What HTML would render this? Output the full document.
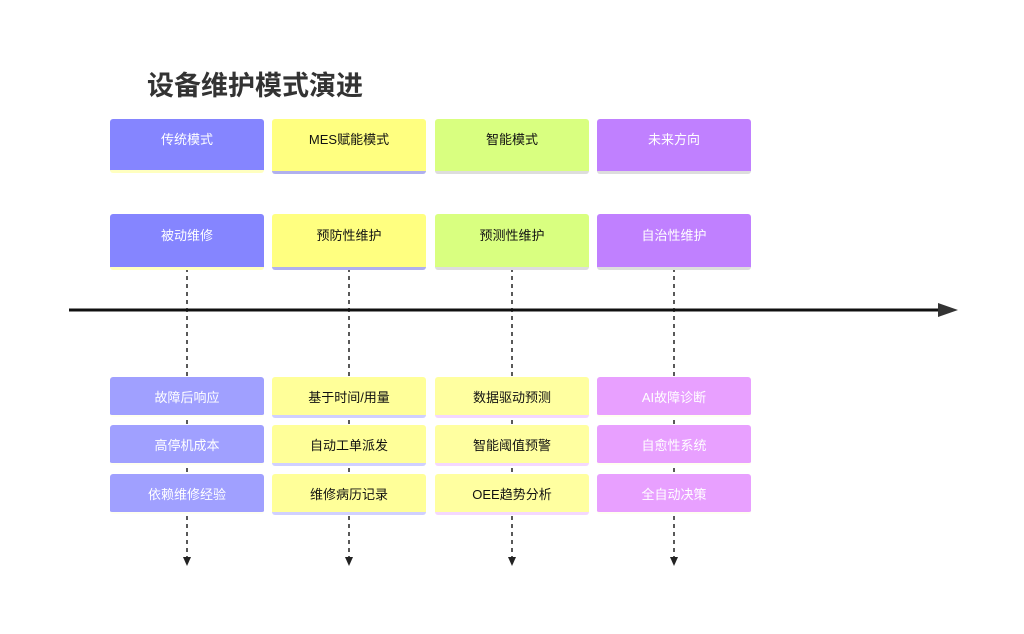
<!DOCTYPE html>
<html><head><meta charset="utf-8"><style>
body{margin:0;width:1024px;height:634px;background:#fff;position:relative;overflow:hidden;font-family:"Liberation Sans","Noto Sans CJK SC",sans-serif}
.b{position:absolute;width:154px;border-radius:3px;display:flex;align-items:center;justify-content:center;font-size:13px;box-sizing:border-box}
.t{position:absolute;left:147px;top:68px;font-size:27px;font-weight:bold;color:#333;line-height:36px}
svg{position:absolute;left:0;top:0}
</style></head><body>
<svg width="1024" height="634">
<g stroke="#222" stroke-width="1.5" stroke-dasharray="4,4">
<line x1="187" y1="268" x2="187" y2="558"/><line x1="349" y1="268" x2="349" y2="558"/>
<line x1="512" y1="268" x2="512" y2="558"/><line x1="674" y1="268" x2="674" y2="558"/>
</g>
<g fill="#222">
<polygon points="183,557 191,557 187,566"/><polygon points="345,557 353,557 349,566"/>
<polygon points="508,557 516,557 512,566"/><polygon points="670,557 678,557 674,566"/>
</g>
<line x1="69" y1="310" x2="940" y2="310" stroke="#111" stroke-width="3"/>
<polygon points="938,303 958,310 938,317" fill="#333"/>
</svg>
<div class="t">设备维护模式演进</div>

<div class="b" style="left:110px;top:119px;height:54px;background:#8585ff;color:#fff;border-bottom:3px solid #ffffc0;align-items:flex-start;padding-top:10px">传统模式</div>
<div class="b" style="left:272px;top:119px;height:55px;background:#ffff80;color:#111;border-bottom:3px solid #b0b0ee;align-items:flex-start;padding-top:10px">MES赋能模式</div>
<div class="b" style="left:435px;top:119px;height:55px;background:#d9ff80;color:#111;border-bottom:3px solid #dddddd;align-items:flex-start;padding-top:10px">智能模式</div>
<div class="b" style="left:597px;top:119px;height:55px;background:#c080ff;color:#fff;border-bottom:3px solid #dddddd;align-items:flex-start;padding-top:10px">未来方向</div>

<div class="b" style="left:110px;top:214px;height:56px;background:#8585ff;color:#fff;border-bottom:3px solid #ffffc0;align-items:flex-start;padding-top:11px">被动维修</div>
<div class="b" style="left:272px;top:214px;height:56px;background:#ffff80;color:#111;border-bottom:3px solid #b0b0ee;align-items:flex-start;padding-top:11px">预防性维护</div>
<div class="b" style="left:435px;top:214px;height:56px;background:#d9ff80;color:#111;border-bottom:3px solid #dddddd;align-items:flex-start;padding-top:11px">预测性维护</div>
<div class="b" style="left:597px;top:214px;height:56px;background:#c080ff;color:#fff;border-bottom:3px solid #dddddd;align-items:flex-start;padding-top:11px">自治性维护</div>

<div class="b" style="left:110px;top:377px;height:40px;background:#a0a0ff;color:#fff;border-bottom:2px solid #fffff0">故障后响应</div>
<div class="b" style="left:110px;top:425px;height:40px;background:#a0a0ff;color:#fff;border-bottom:2px solid #fffff0">高停机成本</div>
<div class="b" style="left:110px;top:474px;height:40px;background:#a0a0ff;color:#fff;border-bottom:2px solid #fffff0">依赖维修经验</div>

<div class="b" style="left:272px;top:377px;height:41px;background:#ffff99;color:#111;border-bottom:3px solid #d0d0ff">基于时间/用量</div>
<div class="b" style="left:272px;top:425px;height:41px;background:#ffff99;color:#111;border-bottom:3px solid #d0d0ff">自动工单派发</div>
<div class="b" style="left:272px;top:474px;height:41px;background:#ffff99;color:#111;border-bottom:3px solid #d0d0ff">维修病历记录</div>

<div class="b" style="left:435px;top:377px;height:41px;background:#ffffa0;color:#111;border-bottom:3px solid #f4d8ff">数据驱动预测</div>
<div class="b" style="left:435px;top:425px;height:41px;background:#ffffa0;color:#111;border-bottom:3px solid #f4d8ff">智能阈值预警</div>
<div class="b" style="left:435px;top:474px;height:41px;background:#ffffa0;color:#111;border-bottom:3px solid #f4d8ff">OEE趋势分析</div>

<div class="b" style="left:597px;top:377px;height:40px;background:#e8a0ff;color:#fff;border-bottom:2px solid #fffff0">AI故障诊断</div>
<div class="b" style="left:597px;top:425px;height:40px;background:#e8a0ff;color:#fff;border-bottom:2px solid #fffff0">自愈性系统</div>
<div class="b" style="left:597px;top:474px;height:40px;background:#e8a0ff;color:#fff;border-bottom:2px solid #fffff0">全自动决策</div>
</body></html>
